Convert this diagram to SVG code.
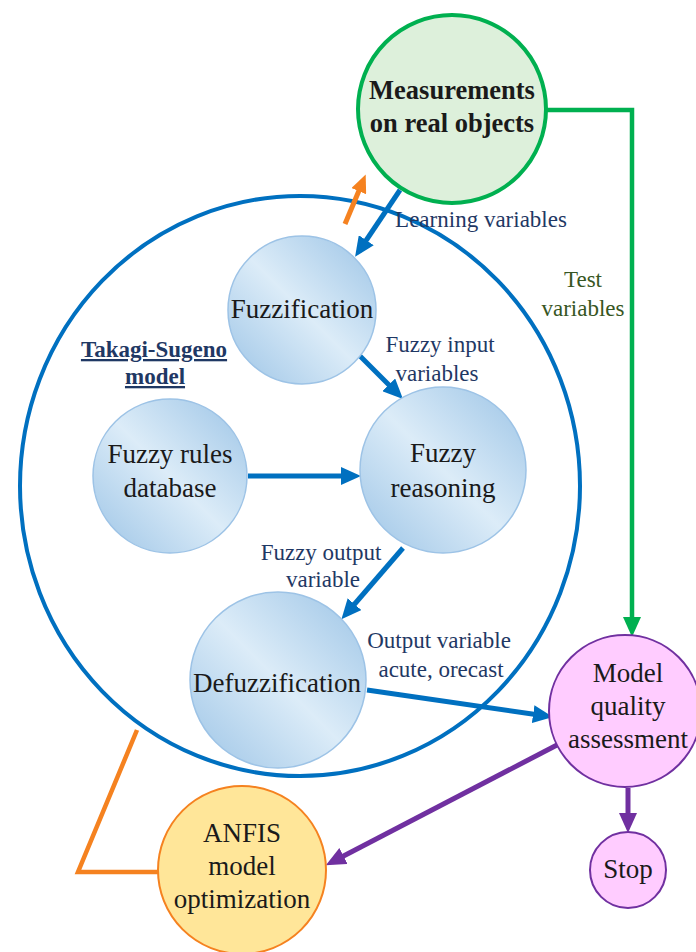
<svg xmlns="http://www.w3.org/2000/svg" width="696" height="952" viewBox="0 0 696 952">
<style>
.node{font-family:"Liberation Serif","Times New Roman",serif;font-size:27px;fill:#1a1a1a;text-anchor:middle}
.lbl{font-family:"Liberation Serif","Times New Roman",serif;font-size:23px;fill:#1f3864;text-anchor:middle}
.blue{fill:url(#bg);stroke:#9dc3e6;stroke-width:1.5}
.cb{stroke:#0070c0;stroke-width:5;fill:none}
.ts{font-family:"Liberation Serif","Times New Roman",serif;font-size:23px;font-weight:bold;fill:#1f3864;text-anchor:middle;text-decoration:underline}
</style>
<defs>
<linearGradient id="bg" x1="1" y1="0" x2="0" y2="1">
<stop offset="0" stop-color="#9cc4e6"/>
<stop offset="0.5" stop-color="#dcecf8"/>
<stop offset="1" stop-color="#9cc4e6"/>
</linearGradient>
<marker id="ab" markerUnits="userSpaceOnUse" markerWidth="20" markerHeight="18" refX="13" refY="9" orient="auto"><path d="M0,0 L20,9 L0,18 z" fill="#0070c0"/></marker>
<marker id="ag" markerUnits="userSpaceOnUse" markerWidth="20" markerHeight="18" refX="13" refY="9" orient="auto"><path d="M0,0 L20,9 L0,18 z" fill="#00b050"/></marker>
<marker id="ap" markerUnits="userSpaceOnUse" markerWidth="20" markerHeight="18" refX="13" refY="9" orient="auto"><path d="M0,0 L20,9 L0,18 z" fill="#7030a0"/></marker>
<marker id="ao" markerUnits="userSpaceOnUse" markerWidth="18" markerHeight="16" refX="11" refY="8" orient="auto"><path d="M0,0 L18,8 L0,16 z" fill="#f58220"/></marker>
</defs>
<g id="takagi-sugeno-model">
<ellipse cx="300" cy="486" rx="280" ry="290" fill="none" stroke="#0070c0" stroke-width="4"/>
<text class="ts" x="154" y="357">Takagi-Sugeno</text>
<text class="ts" x="155" y="384">model</text>
</g>
<g id="connectors">
<line x1="345" y1="224" x2="363" y2="181" stroke="#f58220" stroke-width="5" marker-end="url(#ao)"/>
<polyline points="137,730 78,872 158,872" fill="none" stroke="#f58220" stroke-width="4.5" stroke-linejoin="miter"/>
<polyline points="547,110 632,110 632,630" fill="none" stroke="#00b050" stroke-width="4.5" marker-end="url(#ag)"/>
<line class="cb" x1="400" y1="190" x2="359" y2="251" marker-end="url(#ab)"/>
<line class="cb" x1="360" y1="356" x2="398" y2="394" marker-end="url(#ab)"/>
<line class="cb" x1="248" y1="476" x2="354" y2="476" marker-end="url(#ab)"/>
<line class="cb" x1="403" y1="548" x2="346" y2="614" marker-end="url(#ab)"/>
<line class="cb" x1="367" y1="690" x2="546" y2="716" marker-end="url(#ab)"/>
<line x1="628" y1="788" x2="628" y2="826" stroke="#7030a0" stroke-width="5" marker-end="url(#ap)"/>
<line x1="557" y1="745" x2="332" y2="862" stroke="#7030a0" stroke-width="5" marker-end="url(#ap)"/>
<text class="lbl" x="481" y="227">Learning variables</text>
<text class="lbl" x="440" y="352">Fuzzy input</text>
<text class="lbl" x="437" y="381">variables</text>
<text class="lbl" x="321" y="560">Fuzzy output</text>
<text class="lbl" x="323" y="587">variable</text>
<text class="lbl" x="439" y="648">Output variable</text>
<text class="lbl" x="441" y="677">acute, orecast</text>
<text class="lbl" x="583" y="287" style="fill:#375623">Test</text>
<text class="lbl" x="583" y="316" style="fill:#375623">variables</text>
</g>
<g id="measurements">
<circle cx="452" cy="109" r="94" fill="#ddf0db" stroke="#00b050" stroke-width="4"/>
<text class="node" x="452" y="99" style="font-weight:bold;font-size:26.5px">Measurements</text>
<text class="node" x="452" y="132" style="font-weight:bold;font-size:26.5px">on real objects</text>
</g>
<g id="fuzzification">
<circle class="blue" cx="302" cy="310" r="74"/>
<text class="node" x="302" y="318">Fuzzification</text>
</g>
<g id="fuzzy-rules-database">
<circle class="blue" cx="170" cy="476" r="77"/>
<text class="node" x="170" y="463">Fuzzy rules</text>
<text class="node" x="170" y="497">database</text>
</g>
<g id="fuzzy-reasoning">
<circle class="blue" cx="443" cy="470" r="83"/>
<text class="node" x="443" y="462">Fuzzy</text>
<text class="node" x="443" y="497">reasoning</text>
</g>
<g id="defuzzification">
<circle class="blue" cx="278" cy="680" r="88"/>
<text class="node" x="277" y="692">Defuzzification</text>
</g>
<g id="model-quality-assessment">
<circle cx="625" cy="711" r="76" fill="#ffccff" stroke="#7030a0" stroke-width="2"/>
<text class="node" x="628" y="682">Model</text>
<text class="node" x="628" y="715">quality</text>
<text class="node" x="628" y="748">assessment</text>
</g>
<g id="stop">
<circle cx="628" cy="870" r="38" fill="#ffccff" stroke="#7030a0" stroke-width="2"/>
<text class="node" x="628" y="878">Stop</text>
</g>
<g id="anfis">
<circle cx="242" cy="870" r="84" fill="#ffe699" stroke="#f58220" stroke-width="2"/>
<text class="node" x="242" y="842">ANFIS</text>
<text class="node" x="242" y="875">model</text>
<text class="node" x="242" y="908">optimization</text>
</g>
</svg>
